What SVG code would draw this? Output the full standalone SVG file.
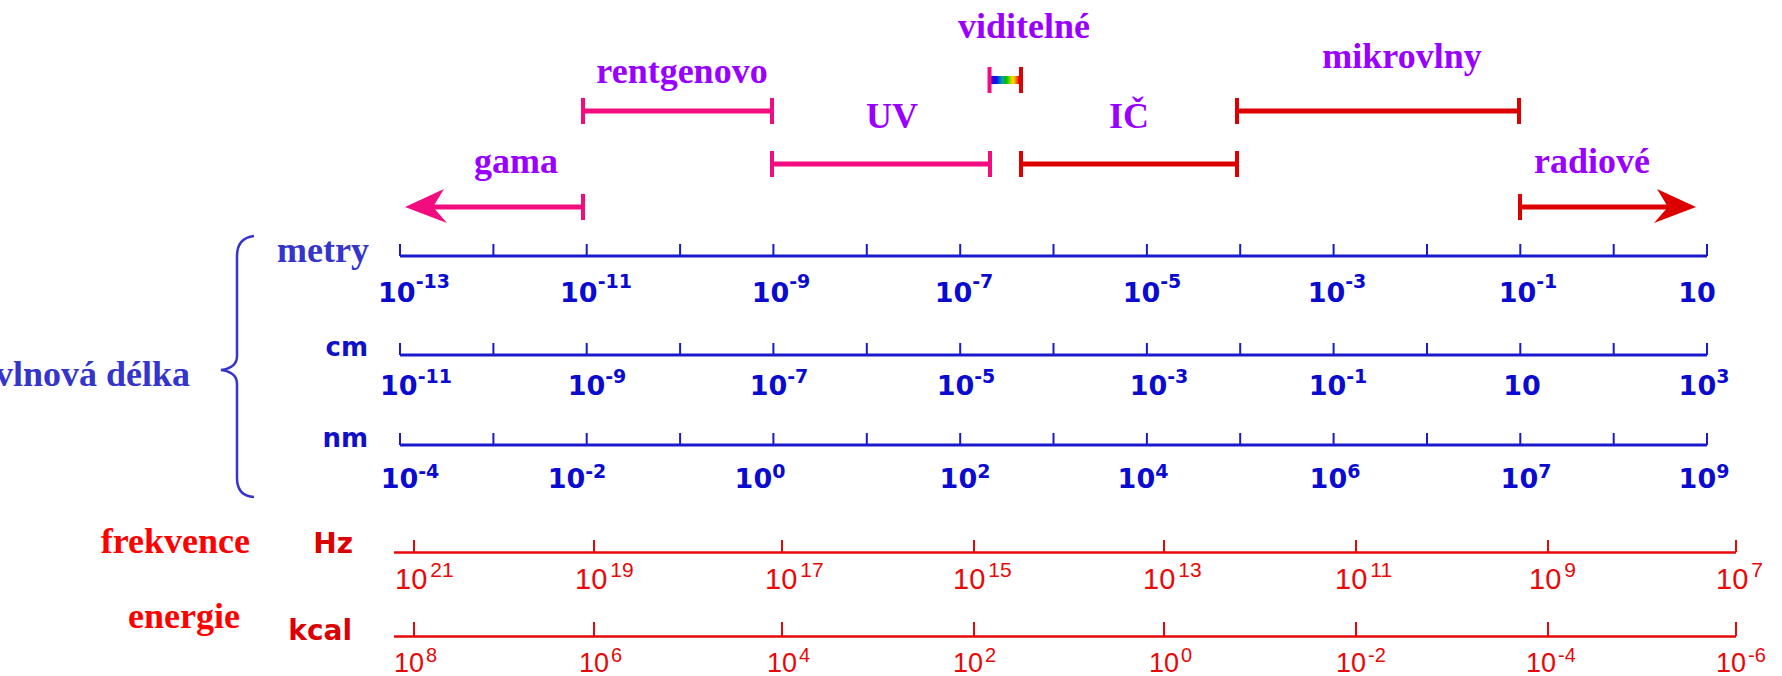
<svg xmlns="http://www.w3.org/2000/svg" width="1782" height="676" viewBox="0 0 1782 676">
  <defs>
    <linearGradient id="rainbow" x1="0" y1="0" x2="1" y2="0">
      <stop offset="0" stop-color="#5a00b0"/>
      <stop offset="0.18" stop-color="#0010ff"/>
      <stop offset="0.4" stop-color="#00a8a0"/>
      <stop offset="0.55" stop-color="#00c000"/>
      <stop offset="0.7" stop-color="#b0d800"/>
      <stop offset="0.8" stop-color="#ffd800"/>
      <stop offset="0.9" stop-color="#ff7a00"/>
      <stop offset="1" stop-color="#e80000"/>
    </linearGradient>
    <style>
      .band { font-family: "Liberation Serif", "Times New Roman", serif; font-weight: bold; font-size: 36px; fill: #9900ff; text-anchor: middle; }
      .pink { stroke: #f20c80; stroke-width: 5; fill: none; }
      .pinkt { stroke: #f20c80; stroke-width: 4; fill: none; }
      .red { stroke: #dd0000; stroke-width: 5; fill: none; }
      .redt { stroke: #dd0000; stroke-width: 4; fill: none; }
      .qty-blue { font-family: "Liberation Serif", "Times New Roman", serif; font-weight: bold; font-size: 36px; fill: #3535cc; }
      .qty-red { font-family: "Liberation Serif", "Times New Roman", serif; font-weight: bold; font-size: 36px; fill: #ff0000; }
      .unit-blue { font-family: "DejaVu Sans", sans-serif; font-weight: bold; font-size: 26px; fill: #1010c8; text-anchor: end; }
      .unit-red { font-family: "DejaVu Sans", sans-serif; font-weight: bold; font-size: 28px; fill: #dd0000; text-anchor: end; }
      .axis-blue { stroke: #1a1acc; stroke-width: 3; fill: none; }
      .tick-blue { stroke: #1a1acc; stroke-width: 2; fill: none; }
      .num-blue { font-family: "DejaVu Sans", sans-serif; font-weight: bold; font-size: 27px; fill: #0a0ad0; text-anchor: middle; }
      .sup-blue { font-size: 19px; }
      .axis-red { stroke: #e80808; stroke-width: 2.5; fill: none; }
      .tick-red { stroke: #e80808; stroke-width: 2; fill: none; }
      .num-red { font-family: "Liberation Sans", Arial, sans-serif; font-size: 29px; fill: #e80808; }
      .sup-red { font-size: 21px; }
      .num-red2 { font-family: "Liberation Sans", Arial, sans-serif; font-size: 27px; fill: #e80808; }
      .sup-red2 { font-size: 20px; }
    </style>
  </defs>
  <rect width="1782" height="676" fill="#ffffff"/>

  <!-- spectrum ranges -->
  <g id="connectors">
    <g id="gama">
      <line class="pink" x1="432" y1="207" x2="583" y2="207"/>
      <line class="pinkt" x1="583" y1="194" x2="583" y2="220"/>
      <polygon points="405,207 444,189 433,207 447,223" fill="#f20c80"/>
      <text class="band" x="516" y="173">gama</text>
    </g>
    <g id="rentgenovo">
      <line class="pink" x1="583" y1="111" x2="772" y2="111"/>
      <line class="pinkt" x1="583" y1="98" x2="583" y2="124"/>
      <line class="pinkt" x1="772" y1="98" x2="772" y2="124"/>
      <text class="band" x="682" y="83">rentgenovo</text>
    </g>
    <g id="uv">
      <line class="pink" x1="772" y1="164" x2="990" y2="164"/>
      <line class="pinkt" x1="772" y1="151" x2="772" y2="177"/>
      <line class="pinkt" x1="990" y1="151" x2="990" y2="177"/>
      <text class="band" x="892" y="128">UV</text>
    </g>
    <g id="viditelne">
      <rect x="991" y="76" width="28" height="8" fill="url(#rainbow)"/>
      <line class="pinkt" x1="989.5" y1="67" x2="989.5" y2="93"/>
      <line class="redt" x1="1021" y1="67" x2="1021" y2="93"/>
      <text class="band" x="1024" y="38">viditelné</text>
    </g>
    <g id="ic">
      <line class="red" x1="1021" y1="164" x2="1237" y2="164"/>
      <line class="redt" x1="1021" y1="151" x2="1021" y2="177"/>
      <line class="redt" x1="1237" y1="151" x2="1237" y2="177"/>
      <text class="band" x="1129" y="128">IČ</text>
    </g>
    <g id="mikrovlny">
      <line class="red" x1="1237" y1="111" x2="1519" y2="111"/>
      <line class="redt" x1="1237" y1="98" x2="1237" y2="124"/>
      <line class="redt" x1="1519" y1="98" x2="1519" y2="124"/>
      <text class="band" x="1402" y="68">mikrovlny</text>
    </g>
    <g id="radiove">
      <line class="red" x1="1520" y1="207" x2="1669" y2="207"/>
      <line class="redt" x1="1520" y1="194" x2="1520" y2="220"/>
      <polygon points="1696,207 1657,189 1668,207 1654,223" fill="#dd0000"/>
      <text class="band" x="1592" y="173">radiové</text>
    </g>
  </g>

  <!-- wavelength group -->
  <g id="vlnova-delka">
    <text class="qty-blue" x="190" y="386" text-anchor="end">vlnová délka</text>
    <path d="M254,236 Q237,238 237,256 L237,356 Q237,368 221,370 Q237,372 237,384 L237,478 Q237,496 254,497" fill="none" stroke="#3535cc" stroke-width="2.5"/>
  </g>

  <g id="axis-metry">
    <text class="qty-blue" x="277" y="262">metry</text>
    <path class="axis-blue" d="M400,256 H1707"/>
    <path class="tick-blue" d="M400,244 V256 M493.4,244 V256 M586.7,244 V256 M680.1,244 V256 M773.4,244 V256 M866.8,244 V256 M960.2,244 V256 M1053.5,244 V256 M1146.9,244 V256 M1240.2,244 V256 M1333.6,244 V256 M1427,244 V256 M1520.3,244 V256 M1613.7,244 V256 M1707,244 V256"/>
    <text class="num-blue" x="414" y="302">10<tspan class="sup-blue" dy="-14">-13</tspan></text>
    <text class="num-blue" x="596" y="302">10<tspan class="sup-blue" dy="-14">-11</tspan></text>
    <text class="num-blue" x="781" y="302">10<tspan class="sup-blue" dy="-14">-9</tspan></text>
    <text class="num-blue" x="964" y="302">10<tspan class="sup-blue" dy="-14">-7</tspan></text>
    <text class="num-blue" x="1152" y="302">10<tspan class="sup-blue" dy="-14">-5</tspan></text>
    <text class="num-blue" x="1337" y="302">10<tspan class="sup-blue" dy="-14">-3</tspan></text>
    <text class="num-blue" x="1528" y="302">10<tspan class="sup-blue" dy="-14">-1</tspan></text>
    <text class="num-blue" x="1697" y="302">10</text>
  </g>

  <g id="axis-cm">
    <text class="unit-blue" x="368" y="356">cm</text>
    <path class="axis-blue" d="M400,355 H1707"/>
    <path class="tick-blue" d="M400,343 V355 M493.4,343 V355 M586.7,343 V355 M680.1,343 V355 M773.4,343 V355 M866.8,343 V355 M960.2,343 V355 M1053.5,343 V355 M1146.9,343 V355 M1240.2,343 V355 M1333.6,343 V355 M1427,343 V355 M1520.3,343 V355 M1613.7,343 V355 M1707,343 V355"/>
    <text class="num-blue" x="416" y="395">10<tspan class="sup-blue" dy="-12">-11</tspan></text>
    <text class="num-blue" x="597" y="395">10<tspan class="sup-blue" dy="-12">-9</tspan></text>
    <text class="num-blue" x="779" y="395">10<tspan class="sup-blue" dy="-12">-7</tspan></text>
    <text class="num-blue" x="966" y="395">10<tspan class="sup-blue" dy="-12">-5</tspan></text>
    <text class="num-blue" x="1159" y="395">10<tspan class="sup-blue" dy="-12">-3</tspan></text>
    <text class="num-blue" x="1338" y="395">10<tspan class="sup-blue" dy="-12">-1</tspan></text>
    <text class="num-blue" x="1522" y="395">10</text>
    <text class="num-blue" x="1704" y="395">10<tspan class="sup-blue" dy="-12">3</tspan></text>
  </g>

  <g id="axis-nm">
    <text class="unit-blue" x="368" y="447">nm</text>
    <path class="axis-blue" d="M400,445 H1707"/>
    <path class="tick-blue" d="M400,433 V445 M493.4,433 V445 M586.7,433 V445 M680.1,433 V445 M773.4,433 V445 M866.8,433 V445 M960.2,433 V445 M1053.5,433 V445 M1146.9,433 V445 M1240.2,433 V445 M1333.6,433 V445 M1427,433 V445 M1520.3,433 V445 M1613.7,433 V445 M1707,433 V445"/>
    <text class="num-blue" x="410" y="488">10<tspan class="sup-blue" dy="-10">-4</tspan></text>
    <text class="num-blue" x="577" y="488">10<tspan class="sup-blue" dy="-10">-2</tspan></text>
    <text class="num-blue" x="760" y="488">10<tspan class="sup-blue" dy="-10">0</tspan></text>
    <text class="num-blue" x="965" y="488">10<tspan class="sup-blue" dy="-10">2</tspan></text>
    <text class="num-blue" x="1143" y="488">10<tspan class="sup-blue" dy="-10">4</tspan></text>
    <text class="num-blue" x="1335" y="488">10<tspan class="sup-blue" dy="-10">6</tspan></text>
    <text class="num-blue" x="1526" y="488">10<tspan class="sup-blue" dy="-10">7</tspan></text>
    <text class="num-blue" x="1704" y="488">10<tspan class="sup-blue" dy="-10">9</tspan></text>
  </g>

  <!-- frequency -->
  <g id="axis-hz">
    <text class="qty-red" x="250" y="553" text-anchor="end">frekvence</text>
    <text class="unit-red" x="353" y="553">Hz</text>
    <path class="axis-red" d="M394,552.5 H1736"/>
    <path class="tick-red" d="M414,540 V552 M594,540 V552 M782,540 V552 M974,540 V552 M1164,540 V552 M1356,540 V552 M1548,540 V552 M1736,540 V552"/>
    <text class="num-red" x="395" y="589">10<tspan class="sup-red" dx="3" dy="-12">21</tspan></text>
    <text class="num-red" x="575" y="589">10<tspan class="sup-red" dx="3" dy="-12">19</tspan></text>
    <text class="num-red" x="765" y="589">10<tspan class="sup-red" dx="3" dy="-12">17</tspan></text>
    <text class="num-red" x="953" y="589">10<tspan class="sup-red" dx="3" dy="-12">15</tspan></text>
    <text class="num-red" x="1143" y="589">10<tspan class="sup-red" dx="3" dy="-12">13</tspan></text>
    <text class="num-red" x="1335" y="589">10<tspan class="sup-red" dx="3" dy="-12">11</tspan></text>
    <text class="num-red" x="1529" y="589">10<tspan class="sup-red" dx="3" dy="-12">9</tspan></text>
    <text class="num-red" x="1716" y="589">10<tspan class="sup-red" dx="3" dy="-12">7</tspan></text>
  </g>

  <!-- energy -->
  <g id="axis-kcal">
    <text class="qty-red" x="240" y="628" text-anchor="end">energie</text>
    <text class="unit-red" x="352" y="640">kcal</text>
    <path class="axis-red" d="M394,636.5 H1736"/>
    <path class="tick-red" d="M414,622 V636 M594,622 V636 M782,622 V636 M974,622 V636 M1164,622 V636 M1356,622 V636 M1548,622 V636 M1736,622 V636"/>
    <text class="num-red2" x="394" y="672">10<tspan class="sup-red2" dx="2" dy="-10">8</tspan></text>
    <text class="num-red2" x="579" y="672">10<tspan class="sup-red2" dx="2" dy="-10">6</tspan></text>
    <text class="num-red2" x="767" y="672">10<tspan class="sup-red2" dx="2" dy="-10">4</tspan></text>
    <text class="num-red2" x="953" y="672">10<tspan class="sup-red2" dx="2" dy="-10">2</tspan></text>
    <text class="num-red2" x="1149" y="672">10<tspan class="sup-red2" dx="2" dy="-10">0</tspan></text>
    <text class="num-red2" x="1336" y="672">10<tspan class="sup-red2" dx="2" dy="-10">-2</tspan></text>
    <text class="num-red2" x="1526" y="672">10<tspan class="sup-red2" dx="2" dy="-10">-4</tspan></text>
    <text class="num-red2" x="1716" y="672">10<tspan class="sup-red2" dx="2" dy="-10">-6</tspan></text>
  </g>
</svg>
